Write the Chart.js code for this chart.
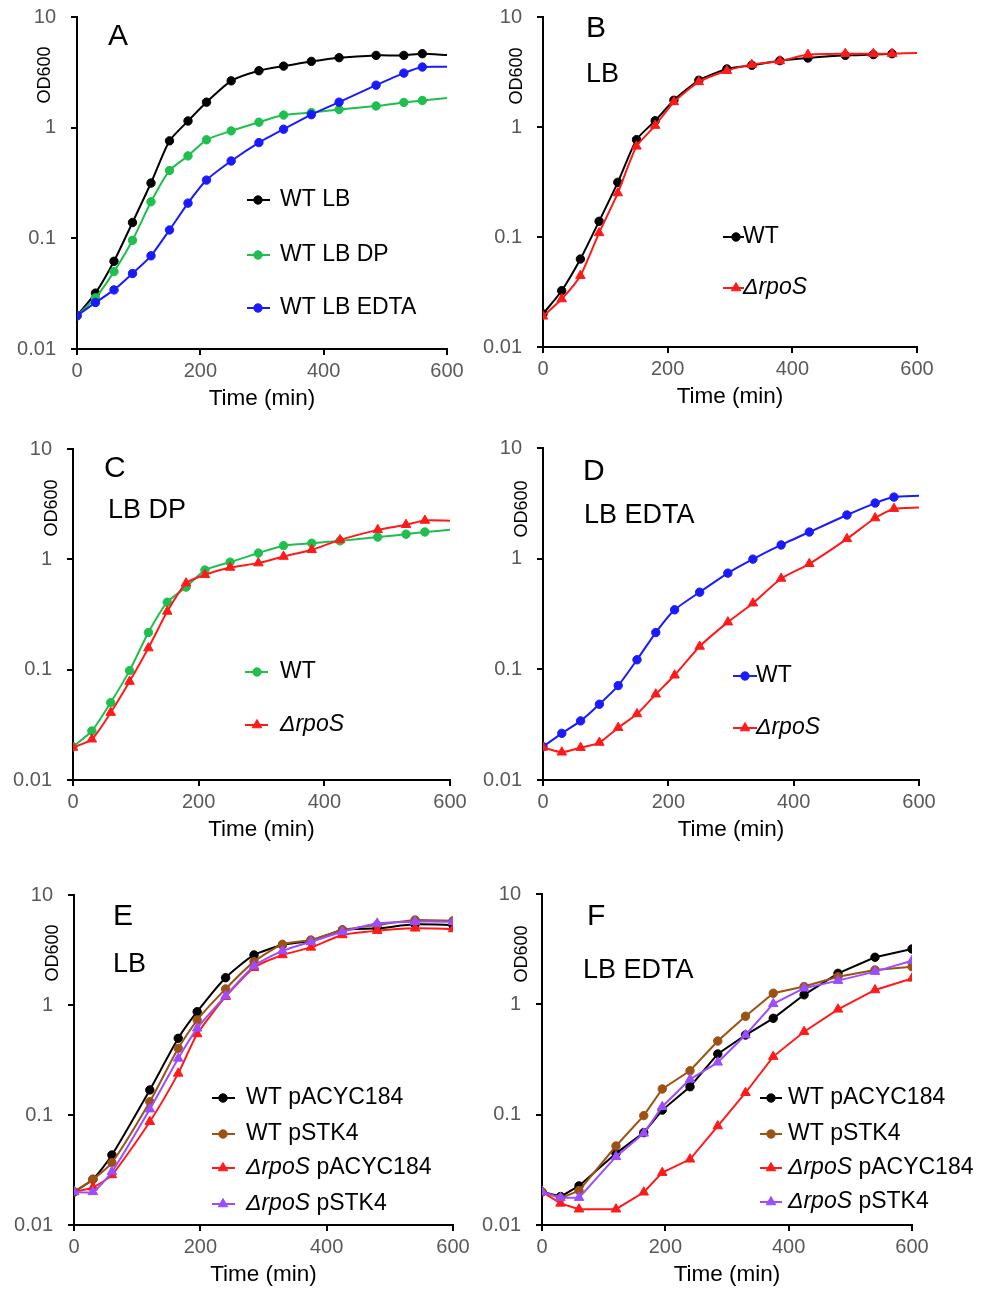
<!DOCTYPE html>
<html>
<head>
<meta charset="utf-8">
<script src="https://cdn.jsdelivr.net/npm/chart.js@4.4.1/dist/chart.umd.min.js"></script>
<style>
  body { margin: 0; background: #fff; }
  #fig { position: relative; width: 988px; height: 1289px; overflow: hidden; background: #fff; }
  #fig canvas { position: absolute; }
</style>
</head>
<body>
<div id="fig"></div>
<script>
// sampling times (min); A-D carry an extra 600 min entry where the line just runs on
var timeAD = [0, 30, 60, 90, 120, 150, 180, 210, 250, 295, 335, 380, 425, 485, 530, 560, 600];
var timeEF = [0, 30, 60, 120, 165, 195, 240, 285, 330, 375, 425, 480, 540, 600];
var xTicks = [0, 200, 400, 600];
var yTicks = [0.01, 0.1, 1, 10];

// A: WT in LB, LB + DP, LB + EDTA
var aLB   = [0.02, 0.032, 0.062, 0.139, 0.316, 0.76, 1.15, 1.70, 2.65, 3.27, 3.60, 3.97, 4.29, 4.50, 4.50, 4.66, 4.53];
var aDP   = [0.02, 0.029, 0.050, 0.096, 0.214, 0.41, 0.556, 0.777, 0.935, 1.12, 1.30, 1.37, 1.46, 1.57, 1.69, 1.76, 1.85];
var aEDTA = [0.02, 0.0263, 0.0342, 0.0481, 0.0695, 0.119, 0.208, 0.336, 0.50, 0.733, 0.968, 1.31, 1.70, 2.42, 3.11, 3.53, 3.55];
// B: LB
var bWT   = [0.02, 0.0325, 0.063, 0.139, 0.314, 0.767, 1.14, 1.75, 2.66, 3.37, 3.64, 4.01, 4.24, 4.48, 4.55, 4.64];
var bRpoS = [0.019, 0.0273, 0.0445, 0.109, 0.251, 0.667, 1.03, 1.69, 2.57, 3.25, 3.69, 3.98, 4.55, 4.64, 4.64, 4.64, 4.71];
// C: LB DP
var cWT   = [0.02, 0.0278, 0.0503, 0.098, 0.217, 0.409, 0.56, 0.80, 0.943, 1.14, 1.33, 1.40, 1.47, 1.59, 1.69, 1.77, 1.85];
var cRpoS = [0.0197, 0.0234, 0.0408, 0.078, 0.157, 0.337, 0.608, 0.724, 0.844, 0.924, 1.06, 1.22, 1.50, 1.85, 2.06, 2.25, 2.24];
// D: LB EDTA
var dWT   = [0.02, 0.0264, 0.0342, 0.0484, 0.0713, 0.122, 0.215, 0.345, 0.498, 0.74, 0.99, 1.33, 1.74, 2.48, 3.18, 3.60, 3.70];
var dRpoS = [0.0197, 0.0178, 0.0196, 0.0218, 0.0297, 0.0395, 0.0596, 0.0884, 0.161, 0.267, 0.396, 0.662, 0.899, 1.51, 2.33, 2.83, 2.90];
// E: LB, plasmids
var eWtAcyc   = [0.02, 0.026, 0.0433, 0.169, 0.498, 0.869, 1.77, 2.85, 3.51, 3.84, 4.81, 4.98, 5.41, 5.34];
var eWtStk4   = [0.02, 0.026, 0.0369, 0.132, 0.404, 0.73, 1.40, 2.48, 3.56, 3.90, 4.81, 5.34, 5.93, 5.84];
var eRpoSAcyc = [0.02, 0.022, 0.0285, 0.0869, 0.239, 0.545, 1.19, 2.18, 2.85, 3.34, 4.33, 4.74, 4.98, 4.91];
var eRpoSStk4 = [0.02, 0.02, 0.0305, 0.113, 0.327, 0.614, 1.21, 2.26, 3.10, 3.76, 4.64, 5.52, 5.72, 5.72];
// F: LB EDTA, plasmids
var fWtAcyc   = [0.02, 0.0181, 0.0226, 0.0446, 0.0687, 0.110, 0.179, 0.355, 0.527, 0.747, 1.22, 1.91, 2.67, 3.17];
var fWtStk4   = [0.02, 0.0175, 0.0205, 0.052, 0.098, 0.171, 0.25, 0.465, 0.78, 1.26, 1.45, 1.78, 2.05, 2.19];
var fRpoSAcyc = [0.02, 0.0157, 0.0139, 0.0139, 0.0198, 0.0298, 0.0394, 0.0789, 0.158, 0.336, 0.565, 0.901, 1.35, 1.72];
var fRpoSStk4 = [0.02, 0.0177, 0.0177, 0.0416, 0.0677, 0.118, 0.209, 0.298, 0.527, 1.01, 1.40, 1.64, 1.98, 2.49];

var labelsA = ['WT LB', 'WT LB DP', 'WT LB EDTA'];
var labelsWtRpoS = ['WT', '\u0394rpoS'];
var labelsEF = ['WT pACYC184', 'WT pSTK4', '\u0394rpoS pACYC184', '\u0394rpoS pSTK4'];

var BLACK = '#000000', GREEN = '#1fbf4f', BLUE = '#1a1aff', RED = '#ff1a1a', BROWN = '#9c5214', PURPLE = '#9b4dff';
var FONT = '"Liberation Sans", Arial, Helvetica, sans-serif';

// box = plot area [left, top, right, bottom] in page pixels
var panels = [
  { box: [77, 17, 447, 349], times: timeAD, tail: true, straight: false, series: [aLB, aDP, aEDTA], labels: labelsA,
    colors: [BLACK, GREEN, BLUE], shapes: ['circle', 'circle', 'circle'],
    letter: ['A', 108, 45], cond: null, yTitle: [45, 75],
    legend: { ys: [200, 255, 308], line: [247, 270], mark: 258, text: 280 } },
  { box: [543, 17, 917, 347], times: timeAD, tail: true, straight: false, series: [bWT, bRpoS], labels: labelsWtRpoS,
    colors: [BLACK, RED], shapes: ['circle', 'triangle'],
    letter: ['B', 586, 37], cond: ['LB', 586, 82], yTitle: [517, 76],
    legend: { ys: [237, 288], line: [723, 744], mark: 736, text: 743 } },
  { box: [73, 449, 450, 780], times: timeAD, tail: true, straight: false, series: [cWT, cRpoS], labels: labelsWtRpoS,
    colors: [GREEN, RED], shapes: ['circle', 'triangle'],
    letter: ['C', 104, 477], cond: ['LB DP', 108, 518], yTitle: [52, 508],
    legend: { ys: [672, 725], line: [245, 268], mark: 257, text: 280 } },
  { box: [543, 448, 919, 780], times: timeAD, tail: true, straight: false, series: [dWT, dRpoS], labels: labelsWtRpoS,
    colors: [BLUE, RED], shapes: ['circle', 'triangle'],
    letter: ['D', 583, 480], cond: ['LB EDTA', 584, 523], yTitle: [522, 509],
    legend: { ys: [676, 728], line: [733, 757], mark: 745, text: 756 } },
  { box: [74, 895, 453, 1225], times: timeEF, tail: false, straight: false, series: [eWtAcyc, eWtStk4, eRpoSAcyc, eRpoSStk4], labels: labelsEF,
    colors: [BLACK, BROWN, RED, PURPLE], shapes: ['circle', 'circle', 'triangle', 'triangle'],
    letter: ['E', 113, 925], cond: ['LB', 113, 972], yTitle: [53, 953],
    legend: { ys: [1098, 1134, 1168, 1204], line: [212, 235], mark: 223, text: 246 } },
  { box: [542, 894, 912, 1225], times: timeEF, tail: false, straight: true, series: [fWtAcyc, fWtStk4, fRpoSAcyc, fRpoSStk4], labels: labelsEF,
    colors: [BLACK, BROWN, RED, PURPLE], shapes: ['circle', 'circle', 'triangle', 'triangle'],
    letter: ['F', 587, 925], cond: ['LB EDTA', 583, 978], yTitle: [522, 954],
    legend: { ys: [1098, 1134, 1168, 1202], line: [760, 782], mark: 771, text: 788 } }
];

// room round the plot area inside each canvas; right side is wide so legend text is not cut
var PAD_L = 70, PAD_T = 15, PAD_R = 76, PAD_B = 70;

function markerRadius(shape) { return shape === 'triangle' ? 5.5 : 4.2; }

// label text with the gene name in italics
function drawLabel(ctx, text, x, y, size) {
  var parts = text.split(/(\u0394rpoS)/);
  parts.forEach(function(part) {
    if (!part) return;
    ctx.font = (part === '\u0394rpoS' ? 'italic ' : '') + size + 'px ' + FONT;
    ctx.fillText(part, x, y);
    x += ctx.measureText(part).width;
  });
}

function drawDeco(chart, p, ox, oy) {
  var ctx = chart.ctx;
  ctx.save();
  ctx.fillStyle = '#000';
  ctx.textAlign = 'left';
  ctx.textBaseline = 'alphabetic';
  ctx.font = '30px ' + FONT;
  ctx.fillText(p.letter[0], p.letter[1] - ox, p.letter[2] - oy);
  if (p.cond) {
    ctx.font = '27px ' + FONT;
    ctx.fillText(p.cond[0], p.cond[1] - ox, p.cond[2] - oy);
  }
  // y axis title
  ctx.save();
  ctx.translate(p.yTitle[0] - ox, p.yTitle[1] - oy);
  ctx.rotate(-Math.PI / 2);
  ctx.textAlign = 'center';
  ctx.textBaseline = 'middle';
  ctx.font = '18px ' + FONT;
  ctx.fillText('OD600', 0, 0);
  ctx.restore();
  // legend
  var L = p.legend;
  chart.data.datasets.forEach(function(ds, i) {
    var y = L.ys[i] - oy;
    ctx.strokeStyle = ds.borderColor;
    ctx.fillStyle = ds.borderColor;
    ctx.lineWidth = 2;
    ctx.beginPath();
    ctx.moveTo(L.line[0] - ox, y);
    ctx.lineTo(L.line[1] - ox, y);
    ctx.stroke();
    ctx.lineWidth = 1;
    Chart.helpers.drawPoint(ctx, { pointStyle: ds.pointStyle, radius: markerRadius(ds.pointStyle), rotation: 0, borderWidth: 1 }, L.mark - ox, y);
    ctx.fillStyle = '#000';
    ctx.textBaseline = 'middle';
    ctx.textAlign = 'left';
    drawLabel(ctx, ds.label, L.text - ox, y, 23);
  });
  ctx.restore();
}

var fig = document.getElementById('fig');

panels.forEach(function(p) {
  var ox = p.box[0] - PAD_L, oy = p.box[1] - PAD_T;
  var canvas = document.createElement('canvas');
  canvas.width = p.box[2] - p.box[0] + PAD_L + PAD_R;
  canvas.height = p.box[3] - p.box[1] + PAD_T + PAD_B;
  canvas.style.left = ox + 'px';
  canvas.style.top = oy + 'px';
  fig.appendChild(canvas);

  var datasets = p.series.map(function(vals, i) {
    var r = markerRadius(p.shapes[i]);
    return {
      label: p.labels[i],
      data: vals.map(function(v, j) { return { x: p.times[j], y: v }; }),
      borderColor: p.colors[i],
      backgroundColor: p.colors[i],
      borderWidth: 2,
      pointStyle: p.shapes[i],
      pointRadius: function(c) { return (p.tail && c.dataIndex === 16) ? 0 : r; },
      pointBorderWidth: 1,
      tension: p.straight ? 0 : 0.2,
      order: -i
    };
  });

  var axisGrid = { display: true, drawOnChartArea: false, drawTicks: true, tickLength: 6, color: '#000', lineWidth: 2 };
  var axisBorder = { display: true, color: '#000', width: 2 };

  new Chart(canvas, {
    type: 'line',
    data: { datasets: datasets },
    options: {
      responsive: false,
      animation: false,
      devicePixelRatio: 1,
      layout: { padding: { left: 0, top: PAD_T, right: PAD_R, bottom: 0 } },
      plugins: { legend: { display: false }, tooltip: { enabled: false } },
      scales: {
        x: {
          type: 'linear', min: 0, max: 600,
          afterBuildTicks: function(s) { s.ticks = xTicks.map(function(v) { return { value: v }; }); },
          afterFit: function(s) { s.height = PAD_B; s.paddingLeft = 0; s.paddingRight = 0; },
          ticks: { color: '#595959', font: { family: FONT, size: 20 }, padding: 4, maxRotation: 0, autoSkip: false },
          grid: axisGrid,
          border: axisBorder,
          title: { display: true, text: 'Time (min)', color: '#000', font: { family: FONT, size: 22.5 }, padding: { top: 0, bottom: 7 } }
        },
        y: {
          type: 'logarithmic', min: 0.01, max: 10,
          afterBuildTicks: function(s) { s.ticks = yTicks.map(function(v) { return { value: v }; }); },
          afterFit: function(s) { s.width = PAD_L; s.paddingTop = 0; s.paddingBottom = 0; },
          ticks: { color: '#595959', font: { family: FONT, size: 20 }, padding: 15, autoSkip: false,
                   callback: function(v) { return String(v); } },
          grid: axisGrid,
          border: axisBorder
        }
      }
    },
    plugins: [{ id: 'deco', afterDraw: function(chart) { drawDeco(chart, p, ox, oy); } }]
  });
});
</script>
</body>
</html>
